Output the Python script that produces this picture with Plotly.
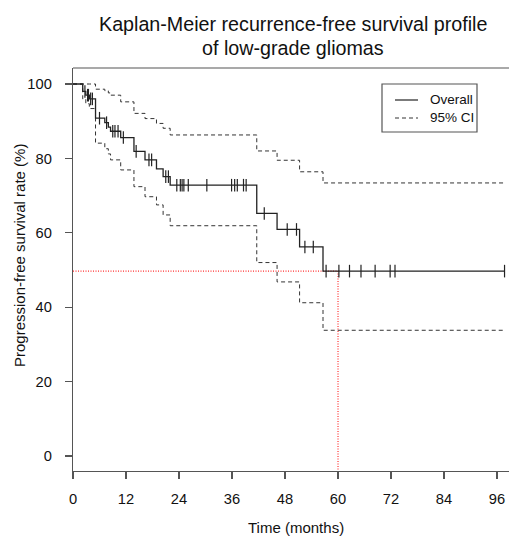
import plotly.graph_objects as go

# ---- data ----
event_times = [2.2, 2.9, 3.7, 5.1, 7.2, 8.0, 8.5, 10.8, 13.8, 16.3, 18.9, 20.4, 22.0, 41.6, 46.2, 51.3, 56.6]
surv_overall = [98.0, 97.0, 96.0, 90.8, 89.6, 88.4, 87.3, 85.6, 81.9, 79.6, 77.2, 75.1, 72.8, 65.2, 60.9, 56.2, 49.7]
surv_upper = [100.0, 100.0, 100.0, 98.6, 98.2, 97.6, 97.0, 95.2, 92.1, 90.7, 89.4, 88.1, 86.3, 82.0, 79.5, 76.4, 73.4]
surv_lower = [96.0, 94.7, 93.4, 84.1, 82.6, 81.2, 79.6, 76.9, 72.4, 69.7, 67.5, 64.8, 61.9, 52.0, 46.8, 41.2, 33.8]
censor_times = [2.7, 3.3, 3.5, 4.0, 4.4, 6.0, 7.6, 9.0, 9.5, 10.2, 11.4, 14.3, 17.2, 17.8, 21.0, 21.6,
                23.5, 24.3, 24.7, 25.1, 26.1, 30.3, 35.9, 36.6, 37.2, 38.6, 39.2, 43.3, 48.5, 50.6,
                52.5, 54.4, 57.3, 60.2, 62.6, 65.2, 68.4, 71.8, 72.9, 97.7]
end_time = 97.7
median_time = 60
median_level = 49.7
x_ticks = [0, 12, 24, 36, 48, 60, 72, 84, 96]
y_ticks = [0, 20, 40, 60, 80, 100]

FONT = "Liberation Sans, Arial, sans-serif"
AX = "#555555"


def step_xy(times, vals):
    return [0] + list(times) + [end_time], [100.0] + list(vals) + [vals[-1]]


def level_at(t):
    s = 100.0
    for et, v in zip(event_times, surv_overall):
        if et <= t:
            s = v
    return s


fig = go.Figure()

xu, yu = step_xy(event_times, surv_upper)
xl, yl = step_xy(event_times, surv_lower)
xo, yo = step_xy(event_times, surv_overall)

fig.add_trace(go.Scatter(x=xu, y=yu, mode="lines", line=dict(shape="hv", color="#333", width=1, dash="4px,3px"),
                         showlegend=False, hoverinfo="skip"))
fig.add_trace(go.Scatter(x=xl, y=yl, mode="lines", line=dict(shape="hv", color="#333", width=1, dash="4px,3px"),
                         showlegend=False, hoverinfo="skip"))

# red median guide lines
y_bottom = -4.03
fig.add_trace(go.Scatter(x=[0, median_time, median_time], y=[median_level, median_level, y_bottom],
                         mode="lines", line=dict(color="#ff3030", width=1.2, dash="1px,1.5px"),
                         showlegend=False, hoverinfo="skip", cliponaxis=False))

fig.add_trace(go.Scatter(x=xo, y=yo, mode="lines", line=dict(shape="hv", color="#222", width=1.3),
                         showlegend=False, hoverinfo="skip"))
fig.add_trace(go.Scatter(x=censor_times, y=[level_at(t) for t in censor_times], mode="markers",
                         marker=dict(symbol="line-ns", size=9, line=dict(color="#222", width=1.2)),
                         showlegend=False, hoverinfo="skip"))

W, H = 509, 536
L, R, T, B = 73, 0, 68, 65
pw, ph = W - L - R, H - T - B


def px(x):
    return (x - L) / pw


def py(y):
    return (H - B - y) / ph


shapes = [
    dict(type="line", xref="paper", yref="paper", x0=0, x1=1, y0=1, y1=1, line=dict(color=AX, width=1.2)),
    # legend box
    dict(type="rect", xref="paper", yref="paper", x0=px(382), x1=px(477), y0=py(84), y1=py(132),
         line=dict(color=AX, width=1.2), fillcolor="white"),
    dict(type="line", xref="paper", yref="paper", x0=px(395), x1=px(418), y0=py(100), y1=py(100),
         line=dict(color="#222", width=1.2)),
    dict(type="line", xref="paper", yref="paper", x0=px(395), x1=px(418), y0=py(118), y1=py(118),
         line=dict(color="#333", width=1, dash="4px,3px")),
]

annotations = [
    dict(text="Kaplan-Meier recurrence-free survival profile", xref="paper", yref="paper",
         x=px(293), y=py(24), showarrow=False, font=dict(size=19.7, family=FONT, color="#111"),
         xanchor="center", yanchor="middle"),
    dict(text="of low-grade gliomas", xref="paper", yref="paper",
         x=px(293), y=py(48), showarrow=False, font=dict(size=19.7, family=FONT, color="#111"),
         xanchor="center", yanchor="middle"),
    dict(text="Time (months)", xref="paper", yref="paper", x=px(296), y=py(527), showarrow=False,
         font=dict(size=15, family=FONT, color="#111"), xanchor="center", yanchor="middle"),
    dict(text="Progression-free survival rate (%)", xref="paper", yref="paper", x=px(20), y=py(256),
         showarrow=False, textangle=-90, font=dict(size=15, family=FONT, color="#111"),
         xanchor="center", yanchor="middle"),
    dict(text="Overall", xref="paper", yref="paper", x=px(428), y=py(100), showarrow=False,
         font=dict(size=13.5, family=FONT, color="#111"), xanchor="left", yanchor="middle"),
    dict(text="95% CI", xref="paper", yref="paper", x=px(428), y=py(118), showarrow=False,
         font=dict(size=13.5, family=FONT, color="#111"), xanchor="left", yanchor="middle"),
]

fig.update_layout(
    width=W, height=H, margin=dict(l=L, r=R, t=T, b=B, pad=0),
    paper_bgcolor="white", plot_bgcolor="white",
    font=dict(family=FONT, color="#111"),
    shapes=shapes, annotations=annotations,
    xaxis=dict(range=[0, pw / 4.417], tickvals=x_ticks, ticktext=[str(v) for v in x_ticks],
               ticks="outside", ticklen=7, tickcolor=AX, tickwidth=1.2, showline=True, linecolor=AX,
               linewidth=1.2, showgrid=False, zeroline=False, tickfont=dict(size=14.7, family=FONT, color="#111"),
               ticklabelstandoff=7),
    yaxis=dict(range=[y_bottom, 104.3], tickvals=y_ticks, ticktext=[str(v) for v in y_ticks],
               ticks="outside", ticklen=7, tickcolor=AX, tickwidth=1.2, showline=True, linecolor=AX,
               linewidth=1.2, showgrid=False, zeroline=False, tickfont=dict(size=14.7, family=FONT, color="#111"),
               ticklabelstandoff=10),
)

fig.write_html("out.html", config={"displayModeBar": False, "staticPlot": True},
               post_script="document.body.style.margin='0';document.body.style.overflow='hidden';")
